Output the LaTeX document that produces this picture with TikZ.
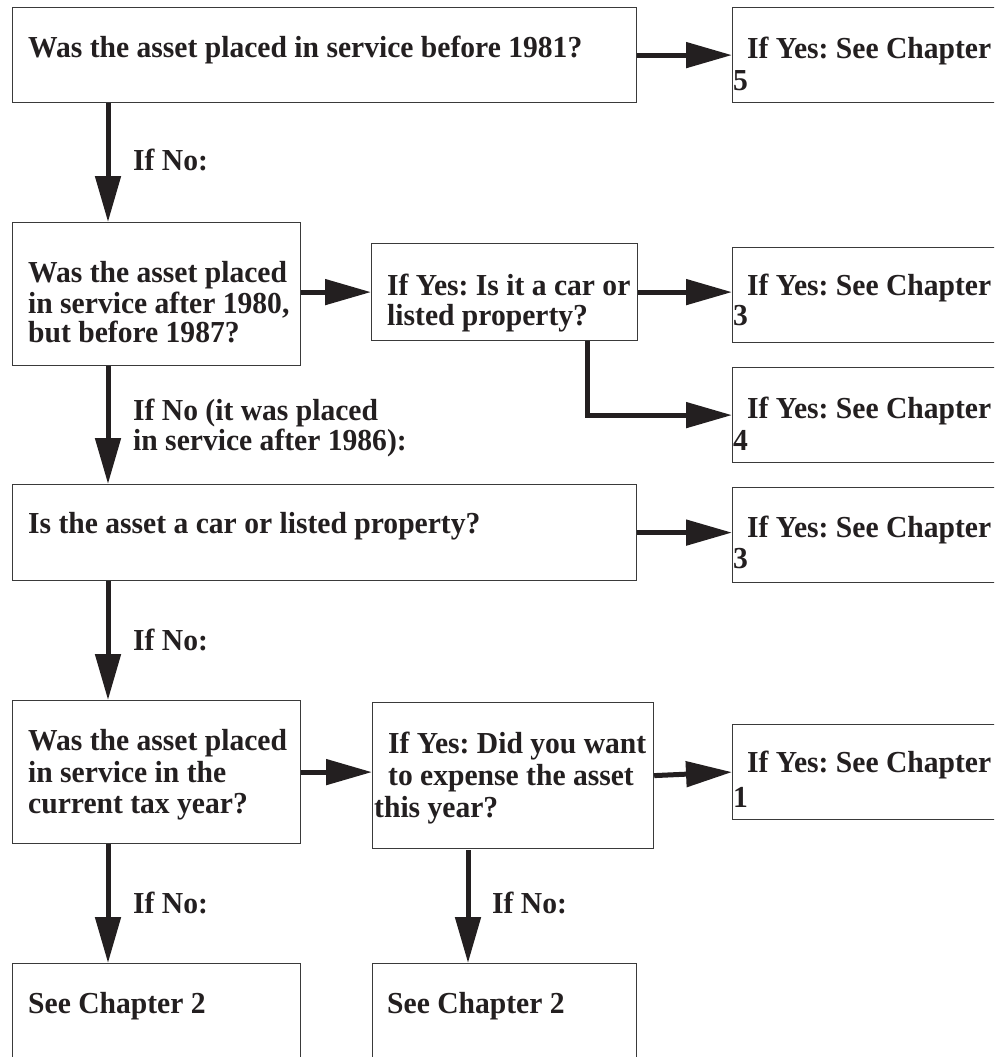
\documentclass[tikz,border=0pt]{standalone}
\usepackage{fontspec}
\setmainfont{Liberation Serif}[FakeStretch=0.97]
\usetikzlibrary{arrows.meta}
\definecolor{ink}{HTML}{231F20}
\definecolor{edge}{HTML}{3A3A3A}
\begin{document}
\frenchspacing
\begin{tikzpicture}[x=1pt,y=-1pt,
  box/.style={draw=edge, line width=1.2pt, fill=white, inner sep=0pt, anchor=north west},
  txt/.style={anchor=base west, inner sep=0pt, text=ink, font=\fontsize{30.5pt}{30.5pt}\selectfont\bfseries\frenchspacing},
  conn/.style={draw=ink, line width=5pt, -{Triangle[length=46pt,width=25pt]}}
]
\useasboundingbox (0,0) rectangle (994,1057);
\clip (0,0) rectangle (994,1057);

% boxes
\node[box, minimum width=624pt, minimum height=95pt] (A) at (12,7) {};
\node[box, minimum width=270pt, minimum height=95pt] (R5) at (732,7) {};
\node[box, minimum width=288pt, minimum height=143pt] (B) at (12,222) {};
\node[box, minimum width=266pt, minimum height=97pt] (B2) at (371,243) {};
\node[box, minimum width=270pt, minimum height=95pt] (R3a) at (732,247) {};
\node[box, minimum width=270pt, minimum height=95pt] (R4) at (732,367) {};
\node[box, minimum width=624pt, minimum height=96pt] (C) at (12,484) {};
\node[box, minimum width=270pt, minimum height=95pt] (R3b) at (732,487) {};
\node[box, minimum width=288pt, minimum height=143pt] (D) at (12,700) {};
\node[box, minimum width=281pt, minimum height=146pt] (D2) at (372,702) {};
\node[box, minimum width=270pt, minimum height=95pt] (R1) at (732,724) {};
\node[box, minimum width=288pt, minimum height=110pt] (E1) at (12,963) {};
\node[box, minimum width=264pt, minimum height=110pt] (E2) at (372,963) {};

% texts
\node[txt] (tA) at (28,58) {Was the asset placed in service before 1981?};
\node[txt] (tR5a) at (747,59) {If Yes: See Chapter};
\node[txt] (tR5b) at (733,90) {5};
\node[txt] (l1) at (133,170) {If No:};
\node[txt] (tB1) at (28,282) {Was the asset placed};
\node[txt] (tB2) at (28,313) {in service after 1980,};
\node[txt] (tB3) at (28,342) {but before 1987?};
\node[txt] (tBB1) at (387,295) {If Yes: Is it a car or};
\node[txt] (tBB2) at (387,325) {listed property?};
\node[txt] (tR3a) at (747,295) {If Yes: See Chapter};
\node[txt] (tR3b) at (733,325) {3};
\node[txt] (tR4a) at (747,418) {If Yes: See Chapter};
\node[txt] (tR4b) at (733,450) {4};
\node[txt] (l2a) at (133,420) {If No (it was placed};
\node[txt] (l2b) at (133,450) {in service after 1986):};
\node[txt] (tC) at (28,533) {Is the asset a car or listed property?};
\node[txt] (tR3c) at (747,537) {If Yes: See Chapter};
\node[txt] (tR3d) at (733,568) {3};
\node[txt] (l3) at (133,650) {If No:};
\node[txt] (tD1) at (28,750) {Was the asset placed};
\node[txt] (tD2) at (28,782) {in service in the};
\node[txt] (tD3) at (28,813) {current tax year?};
\node[txt] (tDD1) at (388,753) {If Yes: Did you want};
\node[txt] (tDD2) at (388,785) {to expense the asset};
\node[txt] (tDD3) at (374,817) {this year?};
\node[txt] (tR1a) at (747,772) {If Yes: See Chapter};
\node[txt] (tR1b) at (733,807) {1};
\node[txt] (l4) at (133,913) {If No:};
\node[txt] (l5) at (492,913) {If No:};
\node[txt] (tE1) at (28,1013) {See Chapter 2};
\node[txt] (tE2) at (387,1013) {See Chapter 2};

% connectors
\draw[conn] (A.east) -- (A.east -| R5.west);
\draw[conn] ([xshift=96pt]A.south west) -- ([xshift=96pt]B.north west);
\draw[conn] (B.east |- B2.west) -- (B2.west);
\draw[conn] (B2.east) -- (B2.east -| R3a.west);
\draw[conn] ([xshift=216pt]B2.south west) |- (R4.west);
\draw[conn] ([xshift=96pt]B.south west) -- ([xshift=96pt]C.north west);
\draw[conn] (C.east) -- (C.east -| R3b.west);
\draw[conn] ([xshift=96pt]C.south west) -- ([xshift=96pt]D.north west);
\draw[conn] (D.east) -- (D.east -| D2.west);
\draw[conn] (D2.east) -- (R1.west);
\draw[conn] ([xshift=96pt]D.south west) -- ([xshift=96pt]E1.north west);
\draw[conn] ([xshift=96pt,yshift=-1pt]D2.south west) -- ([xshift=96pt]E2.north west);
\end{tikzpicture}
\end{document}
